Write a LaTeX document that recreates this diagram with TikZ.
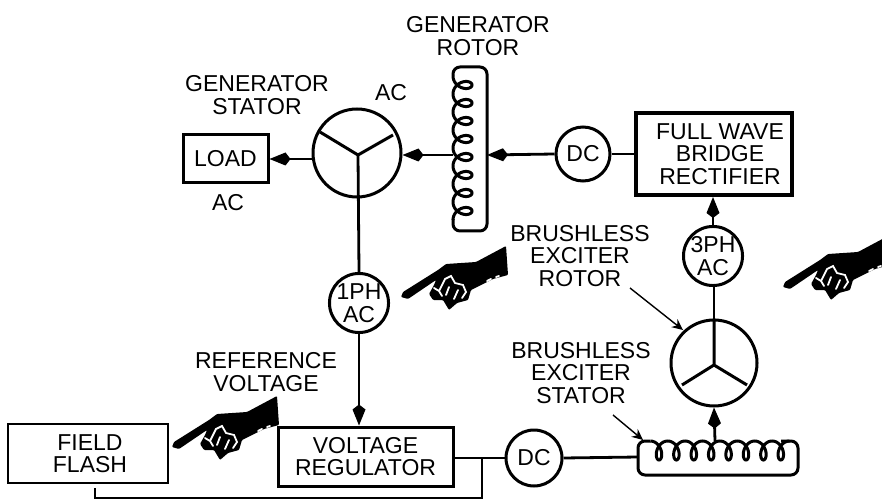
\documentclass[tikz,border=0pt]{standalone}
\usepackage{fontspec}
\setmainfont{Liberation Sans}
\usetikzlibrary{arrows.meta}
\tikzset{
  >={Kite[length=21pt,width=13pt,inset=5pt]},
  wire/.style={line width=2.8pt, draw=black},
  flow/.style={->, line width=2.8pt, draw=black},
  pointer/.style={-{Stealth[length=11pt,width=10pt]}, line width=1.4pt, draw=black},
  box/.style={draw=black, line width=4pt, fill=white, align=center, inner sep=0pt, font=\diagfont},
  thinbox/.style={box, line width=3pt},
  ring/.style={circle, draw=black, line width=3pt, fill=white, align=center, inner sep=0pt, font=\diagfont},
  spoke/.style={line width=3pt, draw=black},
  coil/.style={line width=3pt, draw=black},
  coilframe/.style={coil, rounded corners=7pt},
  tag/.style={align=center, inner sep=0pt, font=\diagfont},
  hand/.pic={
    \fill[black, rounded corners=1pt] (0,0) -- (2,-5) -- (37,-27) -- (45,-33) -- (75,-35) -- (105,-51)
      -- (107,-22) -- (92,-18) -- (70,-7) -- (67,3) -- (56,6) -- (48,13) -- (42,3) -- (32,3)
      -- (28,-3) -- (33,-12) -- (35,-17) -- (7,2) -- cycle;
    \draw[white, line width=1.8pt, line cap=round]
      (33,-9) -- (38,-6) -- (44,-18) -- (50,-21) -- (54,-14) -- (62,-12) -- (65,-5) -- (61,1)
      (38,-6) -- (41,-1) (48,-10) -- (45,-2) (57,-7) -- (53,2)
      (86,-16) -- (90,-18) (95,-20) -- (98,-21);
  }
}
\newcommand{\diagfont}{\fontsize{23}{22.5}\selectfont}
\begin{document}
\begin{tikzpicture}[x=1pt,y=-1pt]
\useasboundingbox (0,0) rectangle (882,502);
% blocks
\node[thinbox,minimum width=85pt,minimum height=48pt] (load) at (225.5,159) {LOAD};
\node[box,minimum width=156pt,minimum height=82pt] (rectifier) at (714,154) {\hspace*{12pt}FULL WAVE\\\hspace*{12pt}BRIDGE\\\hspace*{12pt}RECTIFIER};
\node[thinbox,minimum width=175pt,minimum height=59pt] (regulator) at (365.5,456.5) {VOLTAGE\\REGULATOR};
\node[thinbox,line width=2.4pt,minimum width=160pt,minimum height=59pt] (flash) at (88,453.5) {\hspace*{4pt}FIELD\\\hspace*{4pt}FLASH};
% rings
\node[ring,minimum size=88pt] (genstator) at (357,153) {};
\node[ring,minimum size=54pt] (dctop) at (583,154) {DC};
\node[ring,minimum size=56pt] (threeph) at (713,256) {3PH\\AC};
\node[ring,minimum size=56pt] (oneph) at (359,303) {1PH\\AC};
\node[ring,minimum size=86pt] (exrotor) at (714,363) {};
\node[ring,minimum size=56pt] (dcbottom) at (534,458) {DC};
% spokes
\coordinate (stathub) at (358,155);
\draw[spoke] (stathub) -- (320,132) (stathub) -- (393,135);
\coordinate (rothub) at (714,365);
\draw[spoke] (exrotor.north) -- (rothub) (rothub) -- (682,385) (rothub) -- (747,385);
% generator rotor
\draw[coil] plot[smooth,domain=-180:2700,samples=289] ({462.5+9.5*cos(\x)},{85+18*(\x/360)-7.5*sin(\x)});
\draw[coilframe] (453,76) |- (487,67) |- (453,231) -- (453,219);
\coordinate (rotorW) at (453,155);
\coordinate (rotorE) at (487,155);
% exciter stator
\draw[coil] plot[smooth,domain=-180:2700,samples=289] ({659+17.4*(\x/360)-6.5*sin(\x)},{450.5+9.5*cos(\x)});
\draw[coilframe] (650,441) -| (638,475) -| (798,441) -- (781,441);
\coordinate (statorN) at (715,441);
\coordinate (statorW) at (638,457);
% connectors
\draw[flow] (genstator.west |- load.east) -- (load.east);
\draw[flow] (rotorW) -- (genstator.east |- rotorW);
\draw[flow] (dctop.west) -- (rotorE);
\draw[wire] (dctop.east) -- (rectifier.west |- dctop.east);
\draw[flow] (threeph.north) -- (threeph.north |- rectifier.south);
\draw[wire] (exrotor.north) -- (exrotor.north |- threeph.south);
\draw[flow] (statorN) -- (exrotor.south);
\draw[wire] (stathub) -- (oneph.north);
\draw[flow] (oneph.south) -- (oneph.south |- regulator.north);
\draw[wire] (dcbottom.east) -- (statorW);
\draw[wire] (regulator.east |- dcbottom.west) -- (dcbottom.west);
\coordinate (branch) at (482,457);
\coordinate (flashcorner) at (95,498);
\draw[wire,line width=2pt,shorten >=4pt] (branch) |- (flashcorner) -- (flashcorner |- flash.south);
% labels
\node[tag] (genrotorlabel) at (478,36) {GENERATOR\\ROTOR};
\node[tag] (genstatorlabel) at (257,95) {GENERATOR\\STATOR};
\node[tag] (acright) at (391,93) {AC};
\node[tag] (acbelow) at (228,203) {AC};
\node[tag] (exrotorlabel) at (580,256) {BRUSHLESS\\EXCITER\\ROTOR};
\node[tag] (exstatorlabel) at (581,373) {BRUSHLESS\\EXCITER\\STATOR};
\node[tag] (reflabel) at (266,372) {REFERENCE\\VOLTAGE};
\coordinate (exrotortail) at (630,288);
\coordinate (exrotortip) at (683,330);
\draw[pointer] (exrotortail) -- (exrotortip);
\coordinate (exstatortail) at (613,415);
\coordinate (exstatortip) at (643,440);
\draw[pointer] (exstatortail) -- (exstatortip);
% hands
\pic at (401,297) {hand};
\pic at (783,287) {hand};
\pic at (172,447) {hand};
\end{tikzpicture}
\end{document}
